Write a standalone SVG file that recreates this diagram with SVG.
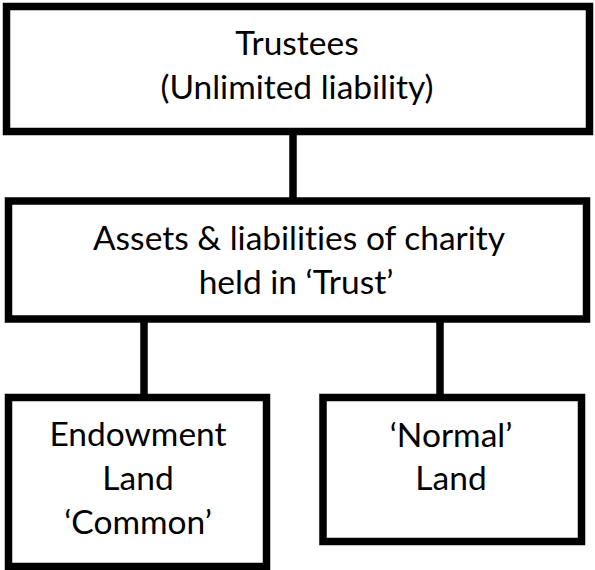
<svg xmlns="http://www.w3.org/2000/svg" width="595" height="570" viewBox="0 0 595 570">
<style>
.box{fill:#fff;stroke:#000;stroke-width:7.5}
.lbl{font-family:Lato,"Open Sans","Liberation Sans",sans-serif;font-size:33.5px;fill:#000;text-anchor:middle;font-variant-ligatures:none;font-feature-settings:"liga" 0}
.conn{stroke:#000;stroke-width:7.5;fill:none}
</style>
<rect width="595" height="570" fill="#fff"/>
<g id="connectors">
<line class="conn" x1="293" y1="131" x2="293" y2="198"/>
<line class="conn" x1="144" y1="319" x2="144" y2="398"/>
<line class="conn" x1="440" y1="313" x2="440" y2="398"/>
</g>
<g id="trustees">
<rect class="box" x="6.5" y="6.5" width="583" height="125"/>
<text class="lbl" x="297" y="55">Trustees</text>
<text class="lbl" x="297" y="99">(Unlimited liability)</text>
</g>
<g id="assets">
<rect class="box" x="8.5" y="201" width="578" height="118"/>
<text class="lbl" x="299" y="250">Assets &amp; liabilities of charity</text>
<text class="lbl" x="296" y="294">held in ‘Trust’</text>
</g>
<g id="endowment">
<rect class="box" x="8.5" y="397.5" width="258" height="169"/>
<text class="lbl" x="138" y="446">Endowment</text>
<text class="lbl" x="138" y="490">Land</text>
<text class="lbl" x="138" y="534">‘Common’</text>
</g>
<g id="normal">
<rect class="box" x="323" y="397.5" width="258.5" height="144"/>
<text class="lbl" x="451" y="447">‘Normal’</text>
<text class="lbl" x="451" y="490">Land</text>
</g>
</svg>
